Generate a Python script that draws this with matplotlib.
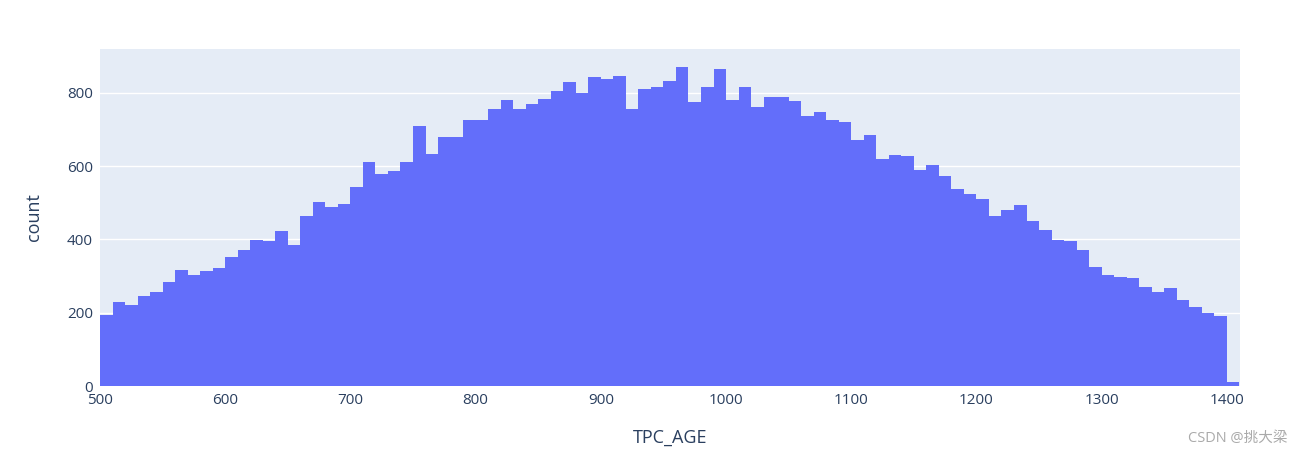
import matplotlib
matplotlib.use('Agg')
import matplotlib.pyplot as plt

plt.rcParams['font.family'] = ['Open Sans', 'Noto Sans CJK SC', 'DejaVu Sans']

# 直方图分箱左边界与计数
bin_edges_left = list(range(500, 1410, 10))
counts = [
    195, 230, 220, 245, 257, 285, 317, 303, 314, 322,
    352, 371, 399, 395, 423, 385, 464, 502, 488, 496,
    543, 612, 578, 586, 611, 709, 633, 679, 679, 725,
    725, 756, 780, 756, 770, 784, 806, 830, 799, 844,
    838, 846, 757, 811, 817, 833, 871, 776, 817, 866,
    781, 817, 762, 789, 789, 778, 737, 748, 726, 720,
    671, 685, 620, 630, 627, 590, 603, 573, 538, 524,
    510, 464, 480, 494, 450, 426, 399, 396, 372, 325,
    303, 298, 295, 270, 257, 268, 235, 216, 199, 190,
    10,
]
bin_width = 10
x_ticks = list(range(500, 1401, 100))
y_ticks = [0, 200, 400, 600, 800]

text_color = '#2a3f5f'

fig = plt.figure(figsize=(13.02, 4.55), dpi=100)
ax = fig.add_axes([100 / 1302, 1 - 386 / 455, 1140 / 1302, 337 / 455])
ax.set_facecolor('#E5ECF6')

ax.bar(bin_edges_left, counts, width=bin_width, align='edge',
       color='#636EFA', linewidth=0, zorder=2)

ax.set_xlim(500, 1410.5)
ax.set_ylim(0, 920)
ax.set_xticks(x_ticks)
ax.set_yticks(y_ticks)
ax.grid(axis='y', color='white', linewidth=1, zorder=1)
ax.set_axisbelow(True)
for s in ax.spines.values():
    s.set_visible(False)
ax.tick_params(axis='x', length=0, labelsize=11, labelcolor=text_color, pad=5)
ax.tick_params(axis='y', length=0, labelsize=11, labelcolor=text_color, pad=5)

ax.set_xlabel('TPC_AGE', fontsize=13, color=text_color, labelpad=15)
ax.set_ylabel('count', fontsize=13, color=text_color, labelpad=17)

fig.text(1287 / 1302, 1 - 438 / 455, 'CSDN @挑大梁', ha='right', va='center',
         fontsize=10.5, color='#aaaaaa')

fig.savefig('out.png', dpi=100)
